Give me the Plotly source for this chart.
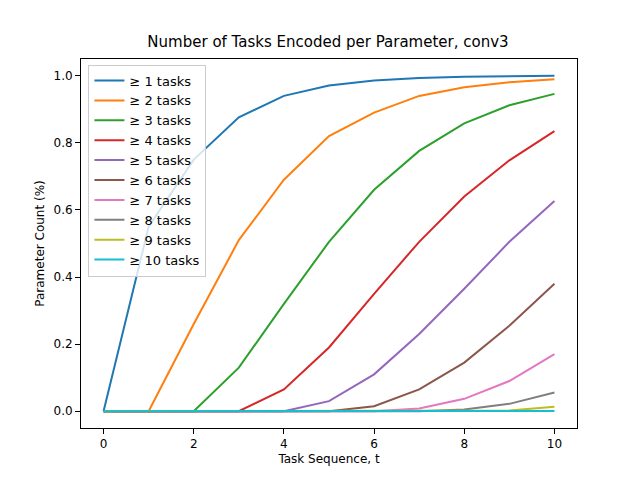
import plotly.graph_objects as go

t = list(range(11))
labels = [f"≥ {k} tasks" for k in range(1, 11)]
s1 = [0, 0.55, 0.75, 0.876, 0.94, 0.971, 0.986, 0.993, 0.997, 0.999, 1.0]
s2 = [0, 0, 0.26, 0.51, 0.69, 0.82, 0.89, 0.94, 0.966, 0.981, 0.99]
s3 = [0, 0, 0, 0.13, 0.32, 0.505, 0.66, 0.776, 0.858, 0.912, 0.946]
s4 = [0, 0, 0, 0, 0.065, 0.19, 0.35, 0.505, 0.64, 0.748, 0.835]
s5 = [0, 0, 0, 0, 0, 0.03, 0.11, 0.23, 0.365, 0.505, 0.627]
s6 = [0, 0, 0, 0, 0, 0, 0.015, 0.065, 0.145, 0.255, 0.38]
s7 = [0, 0, 0, 0, 0, 0, 0, 0.008, 0.037, 0.09, 0.17]
s8 = [0, 0, 0, 0, 0, 0, 0, 0, 0.005, 0.022, 0.056]
s9 = [0, 0, 0, 0, 0, 0, 0, 0, 0, 0.002, 0.013]
s10 = [0, 0, 0, 0, 0, 0, 0, 0, 0, 0, 0.001]
series = [s1, s2, s3, s4, s5, s6, s7, s8, s9, s10]
colors = ["#1f77b4", "#ff7f0e", "#2ca02c", "#d62728", "#9467bd",
          "#8c564b", "#e377c2", "#7f7f7f", "#bcbd22", "#17becf"]

fig = go.Figure()
for lab, s, c in zip(labels, series, colors):
    fig.add_trace(go.Scatter(x=t, y=s, mode="lines", name=lab,
                             line=dict(color=c, width=2)))

axis = dict(showgrid=False, zeroline=False, showline=True, mirror=True,
            linecolor="black", ticks="outside", tickcolor="black",
            tickfont=dict(size=12, color="black"))
fig.update_layout(
    width=640, height=480, plot_bgcolor="white", paper_bgcolor="white",
    font=dict(family="DejaVu Sans", color="black"),
    margin=dict(l=73, r=71, t=51, b=60, autoexpand=False),
    title=dict(text="Number of Tasks Encoded per Parameter, conv3",
               x=0.5, xanchor="center", y=0.94, font=dict(size=15)),
    xaxis=dict(axis, range=[-0.5, 10.5], tickvals=[0, 2, 4, 6, 8, 10],
               title=dict(text="Task Sequence, t", font=dict(size=12), standoff=4)),
    yaxis=dict(axis, range=[-0.05, 1.05], tickvals=[0, 0.2, 0.4, 0.6, 0.8, 1.0],
               tickformat=".1f",
               title=dict(text="Parameter Count (%)", font=dict(size=12), standoff=6)),
    legend=dict(x=0.015, y=0.985, xanchor="left", yanchor="top",
                bgcolor="rgba(255,255,255,0.8)", bordercolor="#cccccc",
                borderwidth=1, font=dict(size=13), tracegroupgap=0),
)
fig.write_html("out.html")
